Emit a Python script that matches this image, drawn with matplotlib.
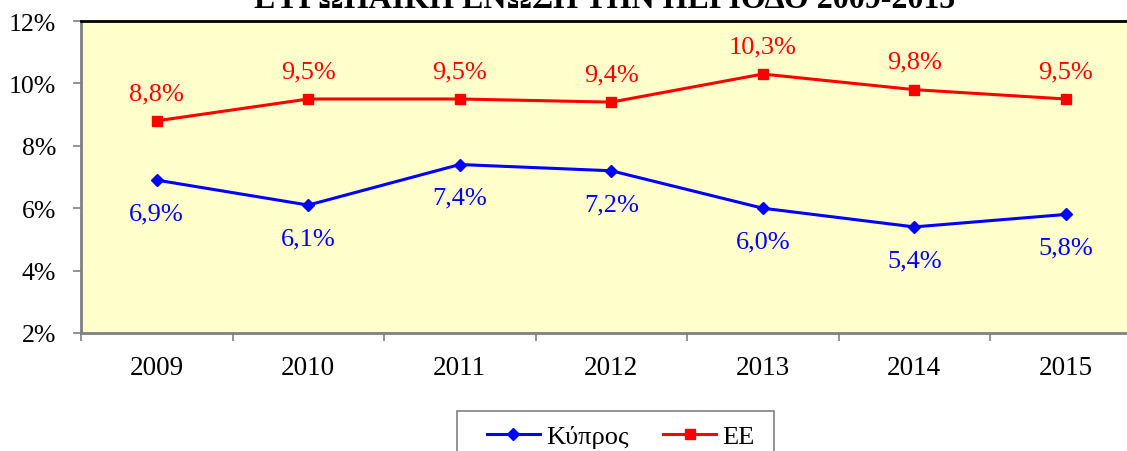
import matplotlib
matplotlib.use('Agg')
import matplotlib.pyplot as plt
from matplotlib.patches import Rectangle

years = ['2009', '2010', '2011', '2012', '2013', '2014', '2015']
cyprus = [6.9, 6.1, 7.4, 7.2, 6.0, 5.4, 5.8]
eu = [8.8, 9.5, 9.5, 9.4, 10.3, 9.8, 9.5]
yticks = [2, 4, 6, 8, 10, 12]

plt.rcParams['font.family'] = ['Liberation Serif', 'DejaVu Serif']

W, H = 1127, 452
fig = plt.figure(figsize=(W / 100, H / 100), dpi=100)
ax = fig.add_axes([81/W, 1-334/H, (1141.5-81)/W, (334-22)/H])
ax.set_facecolor('#FFFFCC')

x = list(range(len(years)))
ax.plot(x, cyprus, color='#0000FF', lw=2.2, marker='D', ms=6, label='Κύπρος')
ax.plot(x, eu, color='#FF0000', lw=2.2, marker='s', ms=7, label='ΕΕ')

for i, v in enumerate(eu):
    ax.annotate(f'{v:.1f}%'.replace('.', ','), (i, v), xytext=(0, 20),
                textcoords='offset points', ha='center', va='center',
                color='#FF0000', fontsize=19)
for i, v in enumerate(cyprus):
    ax.annotate(f'{v:.1f}%'.replace('.', ','), (i, v), xytext=(0, -24),
                textcoords='offset points', ha='center', va='center',
                color='#0000FF', fontsize=19)

ax.set_xlim(-0.5, len(years) - 0.5)
ax.set_ylim(2, 12)
ax.set_yticks(yticks)
ax.set_yticklabels([f'{t}%' for t in yticks], fontsize=18.5)
ax.tick_params(axis='y', direction='out', length=6, width=1.2, color='#808080', pad=12)

ax.set_xticks([i - 0.5 for i in range(len(years) + 1)])
ax.set_xticklabels([])
ax.tick_params(axis='x', which='major', direction='out', length=6, width=1.2, color='#808080')
ax.set_xticks(x, minor=True)
ax.set_xticklabels(years, minor=True, fontsize=19.5)
ax.tick_params(axis='x', which='minor', length=0, pad=16)

for s in ['left', 'bottom']:
    ax.spines[s].set_color('#808080')
    ax.spines[s].set_linewidth(2)
ax.spines['top'].set_color('black')
ax.spines['top'].set_linewidth(2)
ax.spines['right'].set_color('#808080')

# title, only its lower part shows in the original
fig.text(605/W, 1 - 8/H, 'ΕΥΡΩΠΑΪΚΗ ΕΝΩΣΗ ΤΗΝ ΠΕΡΙΟΔΟ 2009-2015', ha='center',
         va='baseline', fontsize=23, fontweight='bold')

# legend box runs off the bottom edge
fig.patches.append(Rectangle((457/W, -0.05), (774-457)/W, 0.05 + 1 - 412/H,
                             transform=fig.transFigure, facecolor='white',
                             edgecolor='#808080', lw=1.2, zorder=0))
leg = fig.legend(loc='center left', bbox_to_anchor=(487/W, 1-437/H), ncol=2,
                 fontsize=19, frameon=False, borderpad=0, borderaxespad=0,
                 handlelength=2.0, handletextpad=0.25, columnspacing=1.3)

fig.savefig('out.png', dpi=100)
